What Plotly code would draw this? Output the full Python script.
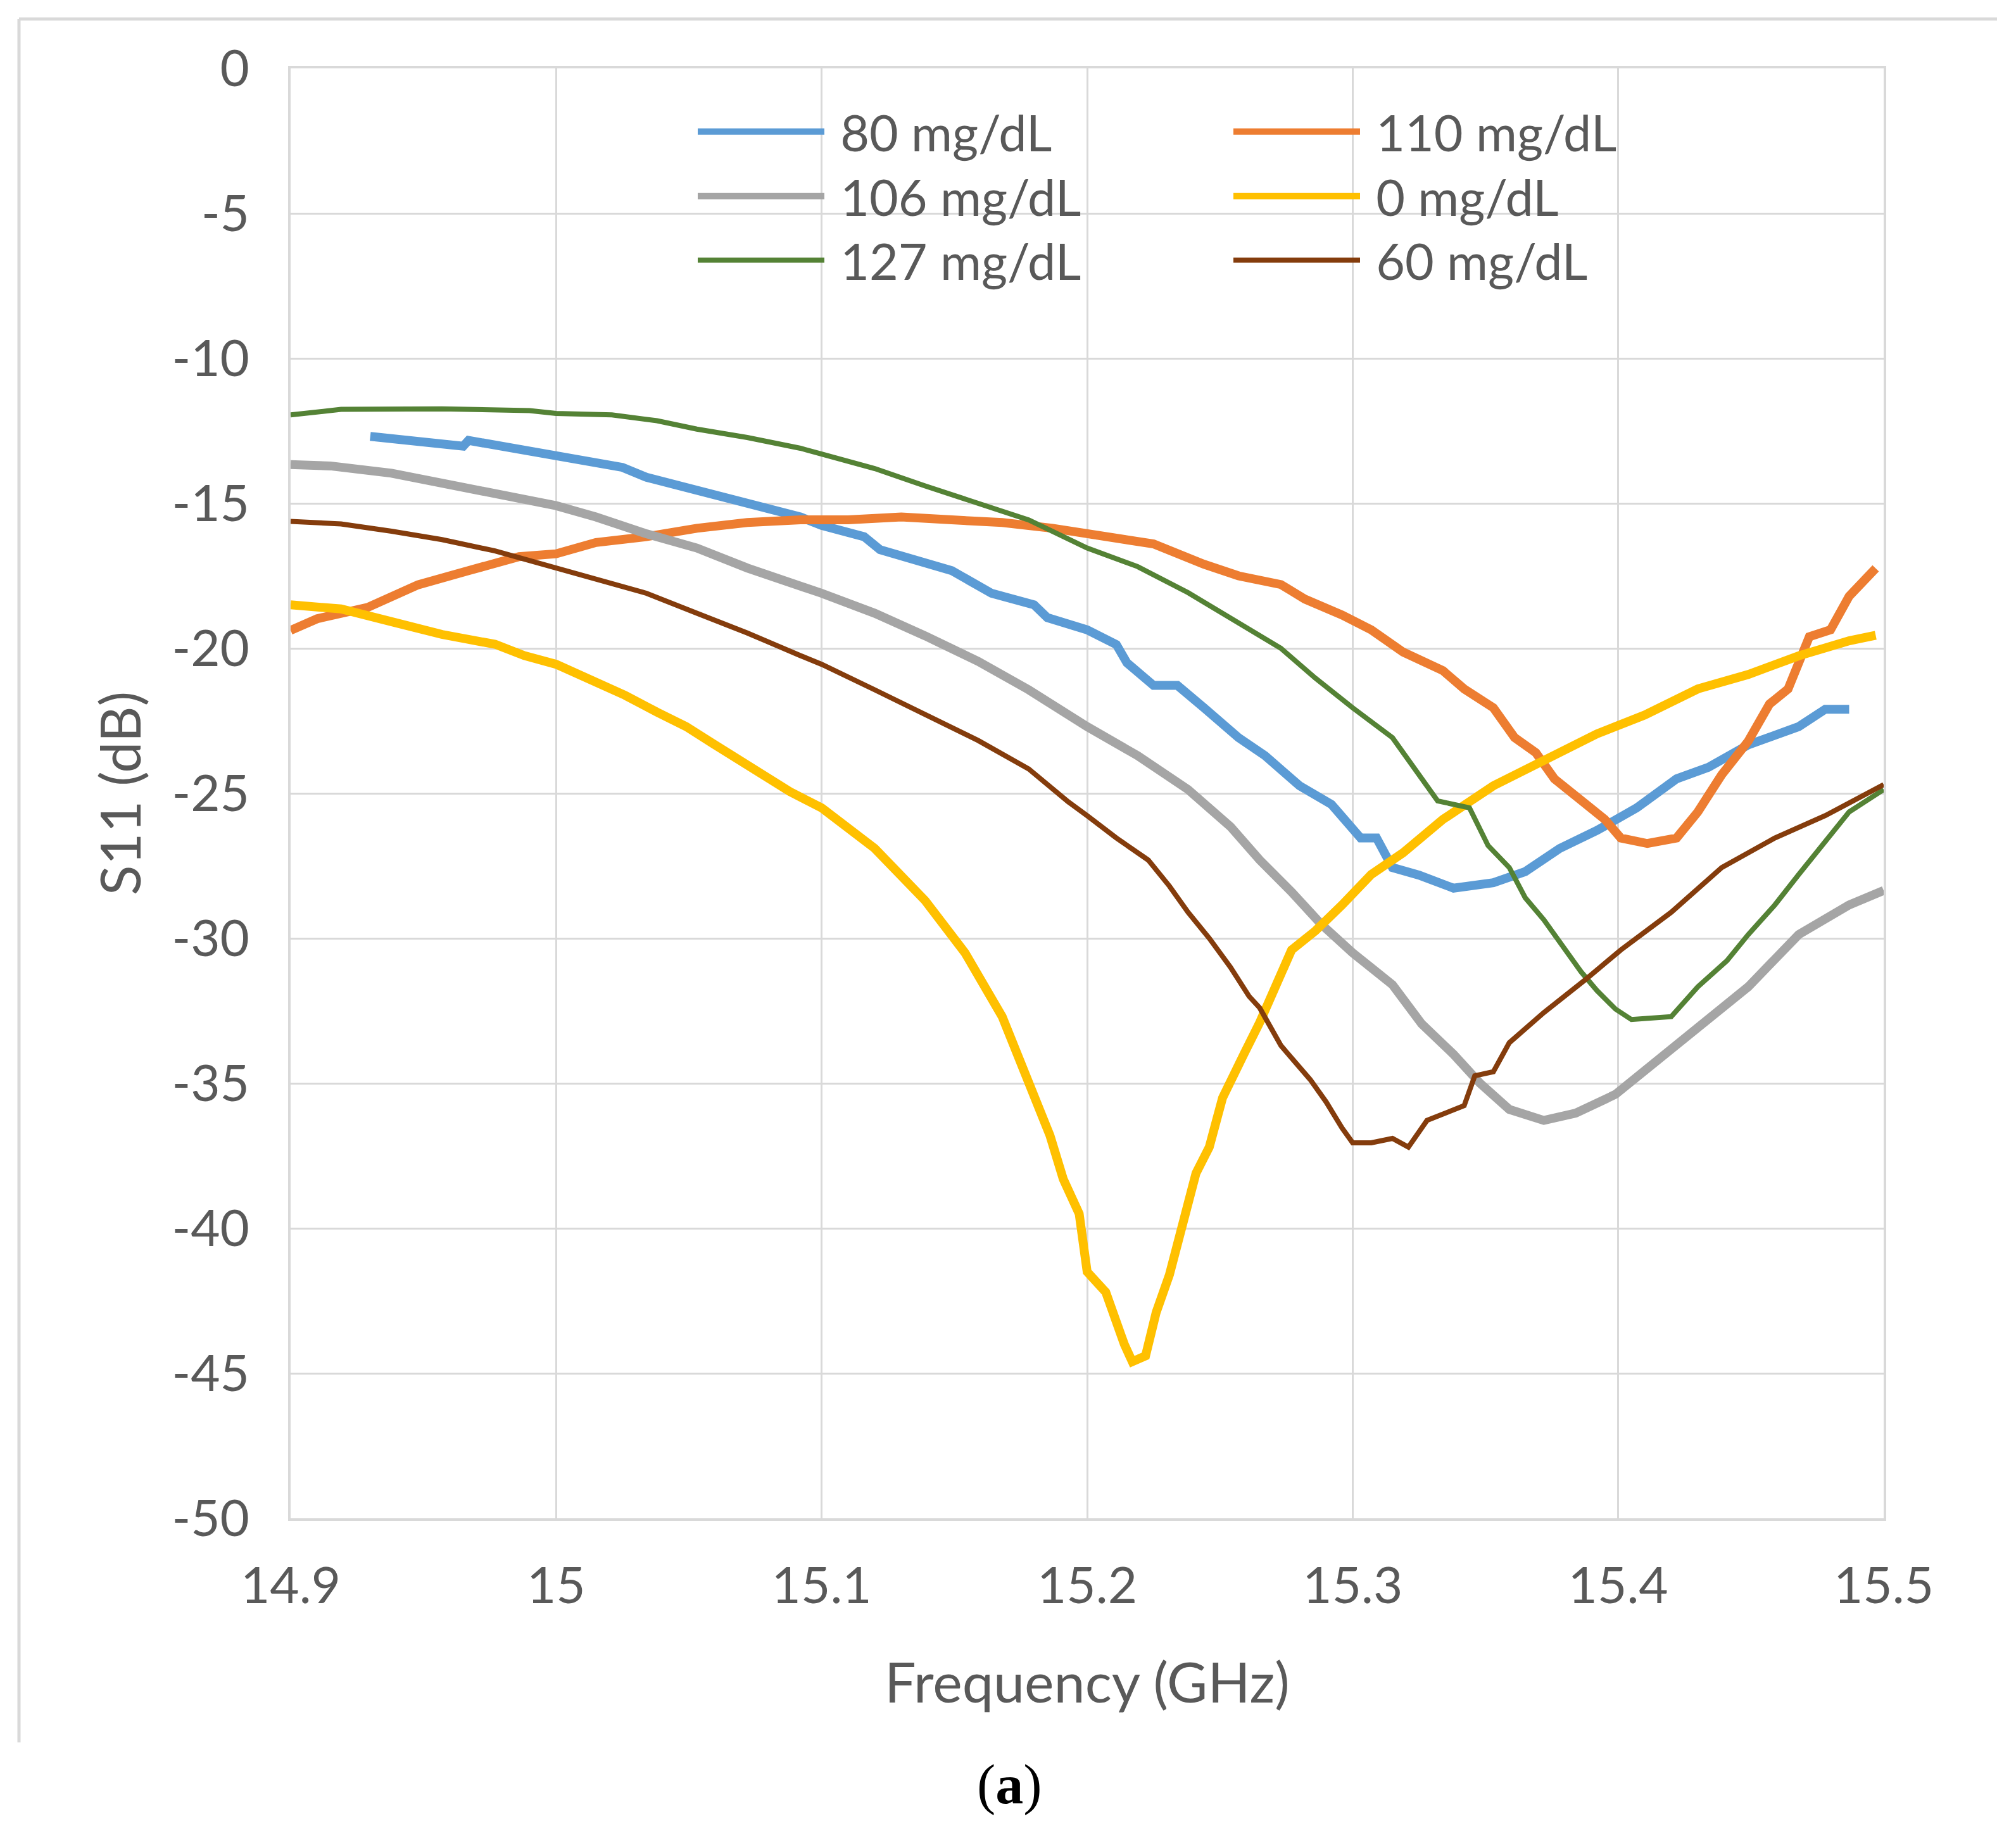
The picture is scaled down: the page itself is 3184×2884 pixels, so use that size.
import plotly.graph_objects as go

# ---------------- data ----------------
f_80 = [14.930, 14.938, 14.965, 14.967, 14.996, 15.025, 15.034, 15.057, 15.072, 15.092, 15.100, 15.116,
        15.122, 15.149, 15.164, 15.180, 15.185, 15.200, 15.211, 15.215, 15.225, 15.234, 15.244, 15.257,
        15.267, 15.280, 15.292, 15.303, 15.309, 15.315, 15.325, 15.338, 15.353, 15.365, 15.378, 15.392,
        15.407, 15.422, 15.434, 15.449, 15.468, 15.478, 15.487]
s_80 = [-12.69, -12.78, -13.03, -12.83, -13.27, -13.76, -14.10, -14.64, -14.93, -15.47, -15.76, -16.15,
        -16.60, -17.32, -18.10, -18.50, -18.94, -19.36, -19.87, -20.50, -21.28, -21.28, -22.05, -23.08,
        -23.70, -24.74, -25.38, -26.54, -26.54, -27.56, -27.82, -28.27, -28.08, -27.70, -26.90, -26.28,
        -25.50, -24.50, -24.10, -23.33, -22.70, -22.10, -22.10]

f_110 = [14.900, 14.910, 14.929, 14.948, 14.967, 14.986, 15.000, 15.015, 15.034, 15.053, 15.072, 15.092,
         15.110, 15.130, 15.149, 15.168, 15.187, 15.204, 15.225, 15.244, 15.257, 15.273, 15.282, 15.296,
         15.307, 15.319, 15.334, 15.342, 15.353, 15.361, 15.369, 15.376, 15.386, 15.395, 15.401, 15.411,
         15.422, 15.430, 15.439, 15.449, 15.457, 15.464, 15.472, 15.480, 15.487, 15.497]
s_110 = [-19.38, -18.98, -18.59, -17.81, -17.32, -16.84, -16.74, -16.35, -16.15, -15.86, -15.66, -15.57,
         -15.57, -15.47, -15.57, -15.66, -15.86, -16.10, -16.40, -17.10, -17.50, -17.80, -18.30, -18.85,
         -19.36, -20.13, -20.77, -21.40, -22.05, -23.08, -23.60, -24.50, -25.26, -25.90, -26.54, -26.73,
         -26.54, -25.64, -24.36, -23.20, -21.92, -21.40, -19.60, -19.36, -18.20, -17.24]

f_106 = [14.900, 14.915, 14.938, 14.957, 14.980, 15.000, 15.015, 15.034, 15.053, 15.072, 15.100, 15.120,
         15.139, 15.159, 15.178, 15.200, 15.219, 15.238, 15.254, 15.265, 15.277, 15.288, 15.300, 15.315,
         15.326, 15.338, 15.348, 15.359, 15.372, 15.384, 15.399, 15.411, 15.430, 15.449, 15.468, 15.487,
         15.500]
s_106 = [-13.66, -13.71, -13.96, -14.30, -14.69, -15.08, -15.47, -16.05, -16.54, -17.23, -18.10, -18.79,
         -19.57, -20.45, -21.43, -22.70, -23.70, -24.87, -26.15, -27.30, -28.40, -29.50, -30.50, -31.60,
         -32.95, -34.00, -35.00, -35.90, -36.28, -36.03, -35.38, -34.50, -33.10, -31.67, -29.87, -28.85,
         -28.35]

f_0 = [14.900, 14.919, 14.938, 14.957, 14.977, 14.988, 15.000, 15.015, 15.026, 15.038, 15.049, 15.059,
       15.069, 15.078, 15.088, 15.100, 15.120, 15.139, 15.154, 15.168, 15.179, 15.186, 15.191, 15.197,
       15.200, 15.207, 15.214, 15.217, 15.222, 15.226, 15.231, 15.236, 15.241, 15.246, 15.251, 15.259,
       15.265, 15.277, 15.286, 15.296, 15.307, 15.319, 15.334, 15.353, 15.372, 15.392, 15.410, 15.430,
       15.449, 15.468, 15.487, 15.497]
s_0 = [-18.50, -18.64, -19.08, -19.52, -19.86, -20.25, -20.55, -21.13, -21.62, -22.20, -22.70, -23.28,
       -23.87, -24.36, -24.94, -25.50, -26.90, -28.70, -30.50, -32.70, -35.20, -36.80, -38.30, -39.50,
       -41.50, -42.20, -44.00, -44.60, -44.40, -42.90, -41.60, -39.80, -38.10, -37.20, -35.50, -34.00,
       -32.90, -30.40, -29.74, -28.85, -27.80, -27.05, -25.90, -24.74, -23.85, -22.95, -22.30, -21.40,
       -20.90, -20.26, -19.74, -19.55]

f_127 = [14.900, 14.919, 14.957, 14.990, 15.000, 15.021, 15.038, 15.053, 15.072, 15.092, 15.100, 15.120,
         15.139, 15.159, 15.178, 15.200, 15.219, 15.238, 15.257, 15.273, 15.286, 15.300, 15.315, 15.326,
         15.332, 15.344, 15.351, 15.359, 15.365, 15.372, 15.380, 15.386, 15.392, 15.399, 15.405, 15.420,
         15.430, 15.441, 15.449, 15.459, 15.468, 15.476, 15.487, 15.500]
s_127 = [-11.95, -11.76, -11.74, -11.80, -11.90, -11.95, -12.15, -12.44, -12.73, -13.10, -13.30, -13.80,
         -14.40, -15.00, -15.57, -16.54, -17.18, -18.08, -19.10, -20.00, -21.03, -22.05, -23.08, -24.50,
         -25.26, -25.50, -26.80, -27.56, -28.60, -29.36, -30.40, -31.15, -31.80, -32.44, -32.80, -32.70,
         -31.67, -30.77, -29.87, -28.85, -27.80, -26.90, -25.64, -24.87]

f_60 = [14.900, 14.919, 14.938, 14.957, 14.977, 15.000, 15.015, 15.034, 15.053, 15.072, 15.092, 15.100,
        15.120, 15.139, 15.159, 15.178, 15.193, 15.200, 15.211, 15.223, 15.231, 15.238, 15.246, 15.254,
        15.261, 15.265, 15.273, 15.284, 15.290, 15.296, 15.300, 15.307, 15.315, 15.321, 15.328, 15.342,
        15.346, 15.353, 15.359, 15.372, 15.388, 15.401, 15.420, 15.439, 15.459, 15.478, 15.500]
s_60 = [-15.62, -15.71, -15.96, -16.25, -16.64, -17.23, -17.62, -18.10, -18.79, -19.47, -20.25, -20.55,
        -21.43, -22.30, -23.18, -24.16, -25.30, -25.77, -26.54, -27.30, -28.20, -29.10, -30.00, -31.00,
        -32.00, -32.40, -33.70, -34.87, -35.64, -36.54, -37.05, -37.05, -36.90, -37.20, -36.28, -35.77,
        -34.74, -34.60, -33.60, -32.56, -31.40, -30.40, -29.10, -27.56, -26.54, -25.77, -24.70]

series_names = ["80 mg/dL", "110 mg/dL", "106 mg/dL", "0 mg/dL", "127 mg/dL", "60 mg/dL"]
x_tickvals = [14.9, 15.0, 15.1, 15.2, 15.3, 15.4, 15.5]
x_ticktext = ["14.9", "15", "15.1", "15.2", "15.3", "15.4", "15.5"]
y_tickvals = [0, -5, -10, -15, -20, -25, -30, -35, -40, -45, -50]
y_ticktext = ["0", "-5", "-10", "-15", "-20", "-25", "-30", "-35", "-40", "-45", "-50"]

# ---------------- layout constants ----------------
W, H = 3184, 2884
L, R, T, B = 459, 209, 108, 486
PW, PH = W - L - R, H - T - B
GRID = "#d9d9d9"
TXT = "#595959"
FONT = "Lato"


def px_x(px):
    return (px - L) / PW


def px_y(py):
    return 1 - (py - T) / PH


# colour, line width, legend column left px, legend row top px
series = [
    (f_80, s_80, "#5B9BD5", 14, 1097, 150),
    (f_110, s_110, "#ED7D31", 14, 1943, 150),
    (f_106, s_106, "#A5A5A5", 14, 1097, 252),
    (f_0, s_0, "#FFC000", 14, 1943, 252),
    (f_127, s_127, "#548235", 8, 1097, 353),
    (f_60, s_60, "#843C0C", 8, 1943, 353),
]

fig = go.Figure()
legend_layout = {}
for i, ((fx, sy, col, lw, lx, ly), name) in enumerate(zip(series, series_names)):
    key = "legend" if i == 0 else f"legend{i + 1}"
    fig.add_trace(go.Scatter(x=fx, y=sy, mode="lines", name="\u00a0" + name, legend=key,
                             line=dict(color=col, width=lw)))
    legend_layout[key] = dict(
        x=px_x(lx), y=px_y(ly), xanchor="left", yanchor="top",
        bgcolor="rgba(0,0,0,0)", font=dict(family=FONT, size=79, color=TXT),
        itemwidth=200, tracegroupgap=0, orientation="v",
    )

fig.update_layout(
    width=W, height=H,
    margin=dict(l=L, r=R, t=T, b=B, pad=0),
    paper_bgcolor="white", plot_bgcolor="white",
    font=dict(family=FONT, color=TXT),
    showlegend=True,
    xaxis=dict(
        range=[14.9, 15.5], tickvals=x_tickvals, ticktext=x_ticktext,
        showgrid=True, gridcolor=GRID, gridwidth=3,
        showline=True, mirror=True, linecolor=GRID, linewidth=4,
        zeroline=False, ticks="", ticklabelstandoff=34,
        tickfont=dict(family=FONT, size=80, color=TXT),
        title=dict(text="Frequency (GHz)", font=dict(family=FONT, size=88, color=TXT), standoff=80),
    ),
    yaxis=dict(
        range=[-50, 0], tickvals=y_tickvals, ticktext=y_ticktext,
        showgrid=True, gridcolor=GRID, gridwidth=3,
        showline=True, mirror=True, linecolor=GRID, linewidth=4,
        zeroline=False, ticks="", ticklabelstandoff=45,
        tickfont=dict(family=FONT, size=80, color=TXT),
        title=dict(text="S11 (dB)", font=dict(family=FONT, size=88, color=TXT), standoff=21),
    ),
    **legend_layout,
)

# outer chart-area border (top and left edges visible in the reference)
fig.add_shape(type="line", xref="paper", yref="paper",
              x0=px_x(30), x1=px_x(3154), y0=px_y(30), y1=px_y(30),
              line=dict(color=GRID, width=5))
fig.add_shape(type="line", xref="paper", yref="paper",
              x0=px_x(30), x1=px_x(30), y0=px_y(30), y1=px_y(2752),
              line=dict(color=GRID, width=5))

# caption
fig.add_annotation(text="(<b>a</b>)", xref="paper", yref="paper",
                   x=px_x(1594), y=px_y(2818), xanchor="center", yanchor="middle",
                   showarrow=False, font=dict(family="Liberation Serif", size=88, color="black"))

fig.write_html("out.html")
